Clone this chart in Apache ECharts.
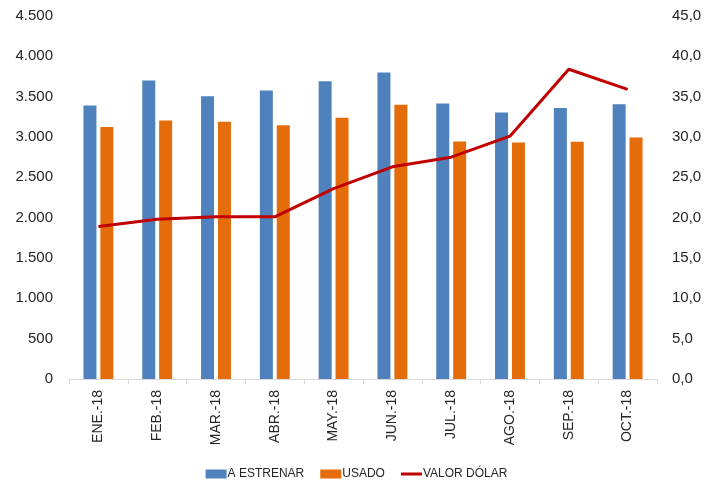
<!DOCTYPE html>
<html>
<head>
<meta charset="utf-8">
<script src="https://cdn.jsdelivr.net/npm/echarts@6/dist/echarts.min.js"></script>
<style>
  html, body { margin: 0; padding: 0; background: #fff; }
  #chart { width: 713px; height: 486px; }
</style>
</head>
<body>
<div id="chart"></div>
<script>
// Monthly categories
const months = ['ENE.-18', 'FEB.-18', 'MAR.-18', 'ABR.-18', 'MAY.-18', 'JUN.-18', 'JUL.-18', 'AGO.-18', 'SEP.-18', 'OCT.-18'];

// Units: new and used
const aEstrenar = [3390, 3700, 3505, 3575, 3690, 3800, 3415, 3305, 3360, 3405];
const usado = [3125, 3205, 3190, 3145, 3240, 3400, 2945, 2932, 2940, 2995];

// Dollar exchange rate (right axis)
const valorDolar = [18.9, 19.8, 20.1, 20.1, 23.6, 26.3, 27.5, 30.1, 38.4, 35.9];

const fontFamily = 'Liberation Sans, Helvetica, Arial, sans-serif';
const textColor = '#262626';

function thousands(v) {
  return String(Math.round(v)).replace(/\B(?=(\d{3})+(?!\d))/g, '.');
}
function oneDecimal(v) {
  return v.toFixed(1).replace('.', ',');
}

const chart = echarts.init(document.getElementById('chart'));
chart.setOption({
  animation: false,
  backgroundColor: '#ffffff',
  textStyle: { fontFamily: fontFamily },
  grid: { left: 69, right: 56, top: 16, bottom: 107, containLabel: false },
  legend: {
    top: 463,
    left: 'center',
    itemWidth: 21,
    itemHeight: 9,
    itemGap: 16,
    textStyle: { fontSize: 12, color: textColor, fontFamily: fontFamily, padding: [0, 0, 0, -4] },
    data: [
      { name: 'A ESTRENAR', icon: 'rect' },
      { name: 'USADO', icon: 'rect' },
      { name: 'VALOR DÓLAR', icon: 'path://M0,0 L21,0 L21,3 L0,3 Z' }
    ]
  },
  xAxis: {
    type: 'category',
    data: months,
    axisLine: { lineStyle: { color: '#d9d9d9', width: 1 } },
    axisTick: { show: true, length: 5, lineStyle: { color: '#d9d9d9' } },
    axisLabel: { rotate: 90, fontSize: 14, color: textColor, margin: 11, fontFamily: fontFamily }
  },
  yAxis: [
    {
      type: 'value',
      min: 0, max: 4500, interval: 500,
      axisLine: { show: false },
      axisTick: { show: false },
      splitLine: { show: false },
      axisLabel: { fontSize: 15, color: textColor, margin: 16, formatter: thousands, fontFamily: fontFamily }
    },
    {
      type: 'value',
      min: 0, max: 45, interval: 5,
      axisLine: { show: false },
      axisTick: { show: false },
      splitLine: { show: false },
      axisLabel: { fontSize: 15, color: textColor, margin: 15, formatter: oneDecimal, fontFamily: fontFamily }
    }
  ],
  series: [
    {
      name: 'A ESTRENAR',
      type: 'bar',
      data: aEstrenar,
      barWidth: 13,
      barGap: '30%',
      itemStyle: { color: '#4f81bd' }
    },
    {
      name: 'USADO',
      type: 'bar',
      data: usado,
      barWidth: 13,
      barGap: '30%',
      itemStyle: { color: '#e46c0a' }
    },
    {
      name: 'VALOR DÓLAR',
      type: 'line',
      yAxisIndex: 1,
      data: valorDolar,
      symbol: 'none',
      lineStyle: { color: '#c00000', width: 3 },
      itemStyle: { color: '#c00000' }
    }
  ]
});
</script>
</body>
</html>
